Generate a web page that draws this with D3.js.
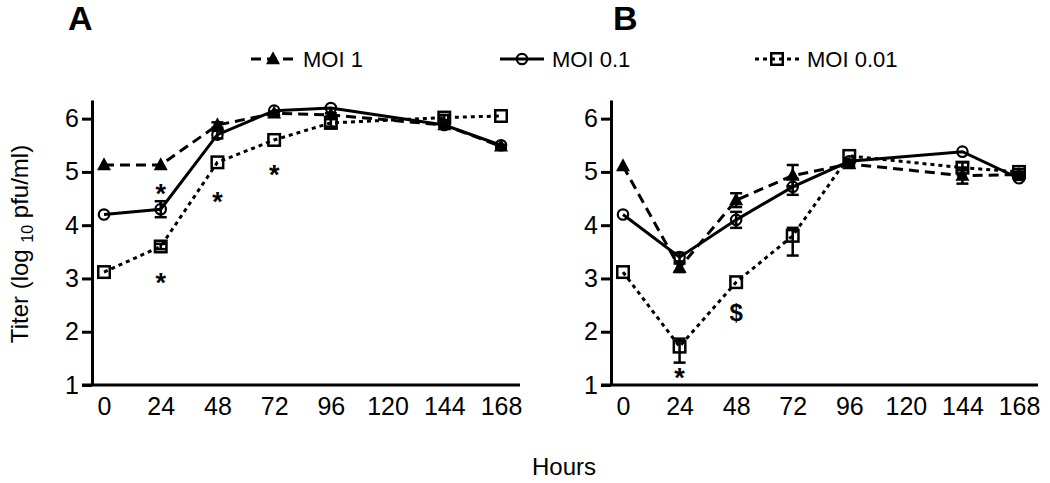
<!DOCTYPE html>
<html><head><meta charset="utf-8">
<script src="https://cdn.jsdelivr.net/npm/d3@7"></script>
<style>
html,body{margin:0;padding:0;background:#fff;}
svg{display:block;font-family:"Liberation Sans",Arial,sans-serif;}
</style></head>
<body><svg id="c" width="1050" height="483"></svg>
<script>
// ---- data ----
const hours = [0, 24, 48, 72, 96, 144, 168];
const tickHours = [0, 24, 48, 72, 96, 120, 144, 168];
const yTicks = [1, 2, 3, 4, 5, 6];
const seriesNames = ["MOI 1", "MOI 0.1", "MOI 0.01"];

// Panel A
const aMoi1   = [5.13, 5.13, 5.88, 6.10, 6.07, 5.88, 5.48];
const aMoi01  = [4.20, 4.30, 5.70, 6.15, 6.20, 5.88, 5.50];
const aMoi001 = [3.12, 3.60, 5.18, 5.60, 5.92, 6.02, 6.05];
const aMoi1Lo   = [0, 0, 0.05, 0.03, 0.03, 0.03, 0.03];
const aMoi1Hi   = [0, 0, 0.05, 0.03, 0.03, 0.03, 0.03];
const aMoi01Lo  = [0, 0.15, 0.07, 0, 0, 0, 0];
const aMoi01Hi  = [0, 0.15, 0.07, 0, 0, 0, 0];
const aMoi001Lo = [0, 0.05, 0, 0, 0.07, 0.05, 0];
const aMoi001Hi = [0, 0.05, 0, 0, 0.07, 0.05, 0];
const aNoteHours = [24, 24, 48, 72];
const aNoteValues = [4.70, 3.02, 4.55, 5.06];
const aNoteTexts = ["*", "*", "*", "*"];

// Panel B
const bMoi1   = [5.11, 3.20, 4.47, 4.93, 5.15, 4.93, 4.95];
const bMoi01  = [4.20, 3.40, 4.10, 4.72, 5.20, 5.38, 4.88];
const bMoi001 = [3.12, 1.72, 2.93, 3.80, 5.30, 5.08, 5.00];
const bMoi1Lo   = [0, 0.08, 0.13, 0.20, 0.05, 0.15, 0.05];
const bMoi1Hi   = [0, 0.08, 0.13, 0.20, 0.05, 0.15, 0.05];
const bMoi01Lo  = [0, 0.08, 0.15, 0.15, 0.03, 0, 0.03];
const bMoi01Hi  = [0, 0.08, 0.15, 0.15, 0.03, 0, 0.03];
const bMoi001Lo = [0, 0.30, 0, 0.37, 0, 0.05, 0.05];
const bMoi001Hi = [0, 0.15, 0, 0.15, 0, 0.10, 0.05];
const bNoteHours = [24, 48];
const bNoteValues = [1.24, 2.37];
const bNoteTexts = ["*", "$"];

// ---- styles ----
const styles = [
  {dash: "10,6", marker: "triangle"},
  {dash: null,   marker: "circle"},
  {dash: "4,4",  marker: "square"}
];

const svg = d3.select("#c");
const LW = 3;
const FONT = '"Liberation Sans",Arial,sans-serif';

function marker(g, type, cx, cy) {
  if (type === "triangle") {
    const s = 14, h = 13;
    g.append("path")
      .attr("d", `M${cx},${cy - h*0.6}L${cx + s/2},${cy + h*0.4}L${cx - s/2},${cy + h*0.4}Z`)
      .attr("fill", "#000");
  } else if (type === "circle") {
    g.append("circle").attr("cx", cx).attr("cy", cy).attr("r", 5.2)
      .attr("fill", "none").attr("stroke", "#000").attr("stroke-width", 2.2);
  } else {
    const s = 11.5;
    g.append("rect").attr("x", cx - s/2).attr("y", cy - s/2).attr("width", s).attr("height", s)
      .attr("fill", "none").attr("stroke", "#000").attr("stroke-width", 2.5);
  }
}

function panel(cfg) {
  const x = d3.scaleLinear().domain([0, 168]).range([cfg.x0, cfg.x1]);
  const y = d3.scaleLinear().domain([1, 6.35]).range([385, 100]);
  const g = svg.append("g");

  // y axis
  const ya = g.append("g").attr("transform", `translate(${cfg.axisX},0)`)
    .call(d3.axisLeft(y).tickValues(yTicks).tickSize(10).tickSizeOuter(0).tickPadding(3).tickFormat(d3.format("d")));
  ya.select(".domain").attr("stroke-width", LW).attr("stroke", "#000");
  ya.selectAll(".tick line").attr("stroke-width", LW).attr("stroke", "#000");
  ya.selectAll(".tick text").attr("font-size", 25).attr("fill", "#000").attr("font-family", FONT);

  // x axis
  const xa = g.append("g").attr("transform", `translate(0,385)`)
    .call(d3.axisBottom(x).tickValues(tickHours).tickSize(0).tickPadding(12));
  xa.select(".domain").remove();
  xa.selectAll(".tick text").attr("font-size", 25).attr("fill", "#000").attr("font-family", FONT);
  g.append("line").attr("x1", cfg.axisX - 10).attr("x2", cfg.xEnd)
    .attr("y1", 385).attr("y2", 385).attr("stroke", "#000").attr("stroke-width", LW);

  // series
  cfg.series.forEach((s, i) => {
    const st = styles[i];
    const line = d3.line().x((d, j) => x(hours[j])).y(d => y(d));
    g.append("path").datum(s.v).attr("d", line)
      .attr("fill", "none").attr("stroke", "#000").attr("stroke-width", LW)
      .attr("stroke-dasharray", st.dash);
  });
  cfg.series.forEach((s, i) => {
    const st = styles[i];
    const eg = g.append("g");
    s.v.forEach((v, j) => {
      const lo = s.lo[j], hi = s.hi[j];
      if (lo > 0 || hi > 0) {
        const cx = x(hours[j]);
        const yl = y(v - lo), yh = y(v + hi);
        eg.append("line").attr("x1", cx).attr("x2", cx).attr("y1", yl).attr("y2", yh)
          .attr("stroke", "#000").attr("stroke-width", 2.5);
        [yl, yh].forEach(yy => eg.append("line").attr("x1", cx - 6).attr("x2", cx + 6)
          .attr("y1", yy).attr("y2", yy).attr("stroke", "#000").attr("stroke-width", 2.5));
      }
      marker(eg, st.marker, x(hours[j]), y(v));
    });
  });

  // annotations
  cfg.notes.h.forEach((h, k) => {
    const t = cfg.notes.t[k];
    const cy = y(cfg.notes.v[k]);
    g.append("text").attr("x", x(h)).attr("y", t === "*" ? cy + 15 : cy + 9)
      .attr("text-anchor", "middle").attr("font-size", t === "*" ? 27 : 24)
      .attr("font-weight", "bold").attr("fill", "#000").text(t);
  });

  // panel letter
  svg.append("text").attr("x", cfg.letterX).attr("y", 30).attr("font-size", 34)
    .attr("font-weight", "bold").attr("fill", "#000").text(cfg.letter);
}

panel({
  letter: "A", letterX: 68, axisX: 92, x0: 104, x1: 501, xEnd: 520,
  series: [
    {v: aMoi1, lo: aMoi1Lo, hi: aMoi1Hi},
    {v: aMoi01, lo: aMoi01Lo, hi: aMoi01Hi},
    {v: aMoi001, lo: aMoi001Lo, hi: aMoi001Hi}
  ],
  notes: {h: aNoteHours, v: aNoteValues, t: aNoteTexts}
});
panel({
  letter: "B", letterX: 613, axisX: 611, x0: 623, x1: 1019, xEnd: 1038,
  series: [
    {v: bMoi1, lo: bMoi1Lo, hi: bMoi1Hi},
    {v: bMoi01, lo: bMoi01Lo, hi: bMoi01Hi},
    {v: bMoi001, lo: bMoi001Lo, hi: bMoi001Hi}
  ],
  notes: {h: bNoteHours, v: bNoteValues, t: bNoteTexts}
});

// legend
const legendX = [251, 500, 755];
const lg = svg.append("g");
seriesNames.forEach((name, i) => {
  const lx = legendX[i], ly = 59;
  lg.append("line").attr("x1", lx).attr("x2", lx + 44).attr("y1", ly).attr("y2", ly)
    .attr("stroke", "#000").attr("stroke-width", LW).attr("stroke-dasharray", styles[i].dash);
  marker(lg, styles[i].marker, lx + 22, ly);
  lg.append("text").attr("x", lx + 52).attr("y", ly + 8).attr("font-size", 22)
    .attr("fill", "#000").text(name);
});

// axis titles
svg.append("text").attr("x", 564).attr("y", 475).attr("text-anchor", "middle")
  .attr("font-size", 24).attr("fill", "#000").text("Hours");
const yt = svg.append("text").attr("transform", "translate(28,244) rotate(-90)")
  .attr("text-anchor", "middle").attr("font-size", 24).attr("fill", "#000");
yt.append("tspan").text("Titer (log ");
yt.append("tspan").attr("font-size", 16).attr("dy", 5).text("10");
yt.append("tspan").attr("dy", -5).text(" pfu/ml)");
</script></body></html>
